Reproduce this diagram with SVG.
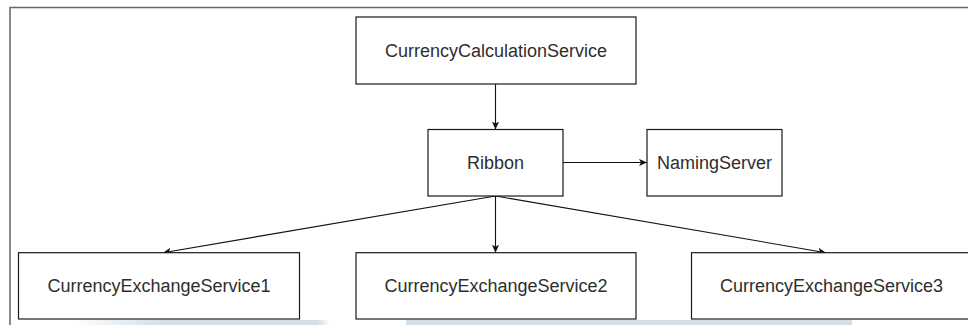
<svg xmlns="http://www.w3.org/2000/svg" width="968" height="325" viewBox="0 0 968 325">
<defs>
<style>
.box{fill:#fff;stroke:#1a1a1a;stroke-width:1.2}
.lbl{font-family:"Liberation Sans",Arial,sans-serif;font-size:18px;fill:#2e2e2e;text-anchor:middle}
.edge{fill:none;stroke:#111;stroke-width:1.1}
</style>
<marker id="ah" viewBox="0 0 10 10" refX="10" refY="5" markerWidth="8" markerHeight="8" markerUnits="userSpaceOnUse" orient="auto">
<path d="M0,0.5 L10,5 L0,9.5 L2.5,5 Z" fill="#111"/>
</marker>
<linearGradient id="band1" x1="0" x2="1" y1="0" y2="0">
<stop offset="0" stop-color="#d3dee7" stop-opacity="0"/>
<stop offset="0.35" stop-color="#d3dee7"/>
<stop offset="0.95" stop-color="#d3dee7"/>
<stop offset="1" stop-color="#d3dee7" stop-opacity="0"/>
</linearGradient>
</defs>
<rect x="0" y="0" width="968" height="325" fill="#fff"/>
<rect x="75" y="320" width="255" height="5" fill="url(#band1)"/>
<rect x="406" y="320" width="446" height="5" fill="#d3dee7"/>
<path d="M10,325 L10,7.5 L968,7.5" fill="none" stroke="#666" stroke-width="1.5"/>
<g id="connectors">
<path class="edge" d="M495.5,84 L495.5,129.5" marker-end="url(#ah)"/>
<path class="edge" d="M563,162.5 L647,162.5" marker-end="url(#ah)"/>
<path class="edge" d="M495.5,196 L163,252.7" marker-end="url(#ah)"/>
<path class="edge" d="M495.5,196 L495.5,252.7" marker-end="url(#ah)"/>
<path class="edge" d="M495.5,196 L826,252.7" marker-end="url(#ah)"/>
</g>
<g id="calc">
<rect class="box" x="356" y="17" width="280" height="67"/>
<text class="lbl" x="496" y="57">CurrencyCalculationService</text>
</g>
<g id="ribbon">
<rect class="box" x="428" y="129.5" width="135" height="66.5"/>
<text class="lbl" x="495.5" y="169">Ribbon</text>
</g>
<g id="naming">
<rect class="box" x="647" y="129.5" width="135" height="66.5"/>
<text class="lbl" x="714.5" y="169">NamingServer</text>
</g>
<g id="exchange1">
<rect class="box" x="18.5" y="252.7" width="281" height="66.3"/>
<text class="lbl" x="159" y="292">CurrencyExchangeService1</text>
</g>
<g id="exchange2">
<rect class="box" x="356" y="252.7" width="280" height="66.3"/>
<text class="lbl" x="496" y="292">CurrencyExchangeService2</text>
</g>
<g id="exchange3">
<rect class="box" x="691.5" y="252.7" width="280" height="66.3"/>
<text class="lbl" x="831.5" y="292">CurrencyExchangeService3</text>
</g>
</svg>
